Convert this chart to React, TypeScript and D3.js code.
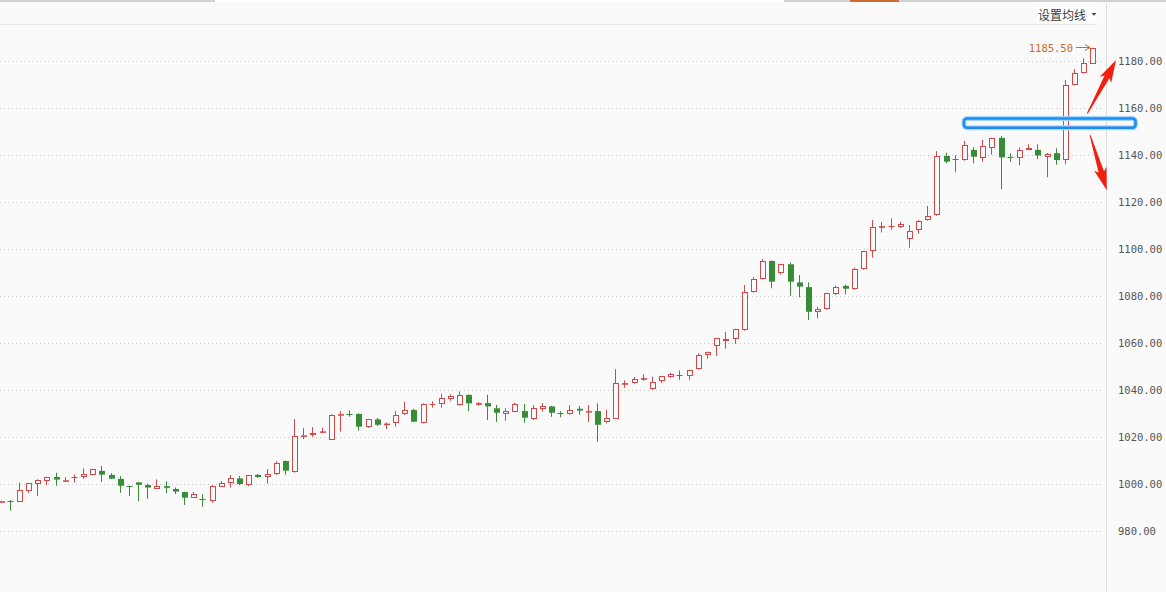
import React from "react";
import * as d3 from "d3";

const W = 1166;
const H = 592;

const opens = [992.3,992.7,992.6,997.3,1000.3,1001.5,1003.1,1001.2,1002.9,1003.2,1004.1,1005.7,1004.0,1002.3,999.3,1000.8,999.7,998.1,999.2,998.0,996.7,994.3,993.6,993.0,999.0,1000.4,1002.5,999.7,1004.0,1003.0,1004.2,1009.9,1005.4,1020.3,1020.8,1021.9,1019.0,1029.3,1030.0,1029.9,1024.2,1027.6,1025.2,1025.9,1029.7,1031.6,1026.2,1034.1,1034.0,1036.4,1033.6,1038.0,1033.8,1034.5,1032.3,1030.0,1030.9,1031.1,1027.7,1032.0,1033.1,1030.5,1029.7,1032.1,1030.6,1031.1,1026.6,1027.9,1042.3,1042.9,1044.4,1040.4,1043.9,1045.7,1046.5,1045.9,1048.9,1054.8,1058.9,1060.8,1061.6,1065.6,1081.6,1087.1,1094.9,1089.9,1093.5,1085.8,1083.8,1073.1,1074.4,1081.0,1084.3,1082.9,1091.4,1099.0,1109.0,1109.5,1109.5,1104.1,1107.9,1112.2,1114.3,1139.5,1138.0,1137.7,1142.1,1138.5,1142.9,1147.2,1138.9,1138.7,1142.1,1142.1,1139.0,1140.7,1137.7,1169.7,1174.7,1178.8];
const highs = [993.0,993.3,1000.7,1000.6,1002.1,1003.2,1004.9,1003.0,1004.2,1006.8,1006.6,1007.8,1004.7,1003.5,999.4,1001.0,1000.3,1002.1,1001.3,998.6,996.9,996.7,995.8,999.6,1001.4,1004.0,1003.5,1004.0,1004.4,1006.5,1009.8,1010.1,1027.7,1024.0,1024.3,1024.0,1029.8,1031.1,1031.4,1030.1,1027.8,1028.2,1026.3,1031.1,1035.0,1032.1,1034.4,1035.3,1038.5,1038.2,1039.5,1038.2,1035.0,1038.0,1033.7,1032.3,1034.7,1034.1,1033.7,1034.5,1033.3,1031.0,1033.6,1033.3,1033.7,1034.4,1031.6,1048.9,1044.2,1045.6,1046.7,1045.7,1046.1,1047.3,1048.4,1048.6,1055.7,1056.4,1062.2,1064.7,1066.1,1084.7,1088.1,1095.7,1095.1,1093.7,1094.2,1088.9,1085.8,1075.5,1081.4,1084.4,1084.8,1092.1,1099.2,1112.3,1111.5,1113.0,1111.5,1110.2,1112.3,1118.3,1141.6,1140.9,1139.8,1145.9,1143.3,1146.3,1147.3,1148.0,1140.7,1143.2,1144.5,1144.5,1140.8,1142.8,1171.8,1176.4,1181.0,1185.5];
const lows = [992.0,988.8,992.4,996.4,995.0,999.6,999.4,1001.1,1000.7,1002.3,1003.7,1001.0,1002.2,996.4,995.0,992.9,993.8,998.0,996.2,995.9,991.2,994.2,990.5,992.2,998.8,998.6,999.6,999.2,1002.7,1000.3,1004.0,1004.1,1005.0,1019.2,1020.2,1021.8,1018.8,1022.4,1028.7,1022.8,1024.0,1024.8,1023.4,1024.5,1029.5,1026.4,1025.8,1032.6,1032.6,1035.5,1033.4,1031.1,1033.4,1027.3,1026.5,1027.0,1030.7,1026.2,1027.3,1031.0,1028.7,1028.5,1029.5,1029.6,1026.5,1018.1,1025.9,1027.7,1041.0,1042.7,1044.0,1040.2,1043.0,1045.3,1044.4,1044.4,1048.7,1053.4,1054.6,1057.6,1059.7,1065.3,1081.4,1087.0,1083.3,1089.1,1080.1,1079.5,1069.8,1070.5,1074.2,1080.4,1080.7,1082.7,1091.2,1096.3,1107.0,1108.2,1108.9,1100.5,1106.5,1112.0,1114.1,1136.4,1132.6,1137.5,1136.4,1137.1,1140.1,1125.4,1137.0,1135.6,1142.0,1138.1,1130.5,1135.8,1136.0,1169.5,1174.5,1178.6];
const closes = [992.8,992.5,997.6,1000.4,1001.7,1003.0,1002.0,1001.7,1003.1,1004.4,1006.4,1004.1,1002.4,999.4,999.1,999.8,998.6,999.2,998.5,996.9,994.3,995.8,993.4,999.3,1000.4,1002.5,1000.1,1003.8,1003.1,1004.4,1009.2,1005.8,1020.5,1020.8,1021.8,1022.5,1029.4,1029.8,1029.8,1024.5,1027.6,1025.3,1025.8,1029.4,1031.4,1026.6,1034.1,1034.3,1036.5,1037.4,1038.0,1034.4,1034.5,1033.1,1030.4,1031.0,1034.1,1028.3,1032.3,1033.1,1030.4,1030.3,1031.7,1031.3,1031.1,1025.3,1028.0,1042.9,1043.0,1044.6,1045.1,1043.3,1045.9,1046.7,1046.3,1048.4,1054.8,1056.1,1062.0,1061.7,1065.9,1081.6,1087.2,1094.8,1086.1,1093.5,1086.1,1084.0,1073.3,1074.4,1081.2,1083.8,1083.1,1091.4,1099.0,1109.2,1109.7,1109.7,1110.5,1107.5,1111.9,1113.9,1139.5,1137.1,1138.2,1144.1,1139.2,1143.6,1147.0,1138.9,1138.7,1142.0,1143.0,1139.7,1140.5,1137.8,1169.6,1174.7,1178.9,1185.5];

const priceTicks = [980, 1000, 1020, 1040, 1060, 1080, 1100, 1120, 1140, 1160, 1180];
const headerLabel = "设置均线";

// annotations in data units: [index, price]
const upArrow = [[118.45, 1157.6], [121.58, 1180.3]];
const downArrow = [[118.75, 1148.4], [120.57, 1125.0]];
const zoneBox = { i0: 105.0, i1: 123.7, p0: 1151.5, p1: 1155.4 };

const RED = "#d14848";
const GREEN = "#368d36";
const BG = "#fafafa";
const ORANGE = "#cf6a1e";
const ARROW_RED = "#f0200f";

function arrowPoly(x0: number, y0: number, x1: number, y1: number) {
  const dx = x1 - x0, dy = y1 - y0;
  const len = Math.hypot(dx, dy);
  const ux = dx / len, uy = dy / len;
  const nx = -uy, ny = ux;
  const headLen = 19, headHalf = 6.5, tailHalf = 0.5, neckHalf = 2.8, barb = 3.5;
  const bx = x1 - ux * headLen, by = y1 - uy * headLen;
  const bbx = bx - ux * barb, bby = by - uy * barb;
  const pts = [
    [x0 + nx * tailHalf, y0 + ny * tailHalf],
    [bx + nx * neckHalf, by + ny * neckHalf],
    [bbx + nx * headHalf, bby + ny * headHalf],
    [x1, y1],
    [bbx - nx * headHalf, bby - ny * headHalf],
    [bx - nx * neckHalf, by - ny * neckHalf],
    [x0 - nx * tailHalf, y0 - ny * tailHalf],
  ];
  return pts.map((p) => p.join(",")).join(" ");
}

export default function App() {
  const n = closes.length;
  const x = d3.scaleLinear().domain([0, n - 1]).range([0.5, 1092.4]);
  const y = d3.scaleLinear().domain([1000, 1180]).range([484.3, 60.7]);
  const fmt = d3.format(".2f");
  const axisX = 1106.5;

  const candles = d3.range(n).map((i) => {
    const o = opens[i], c = closes[i], h = highs[i], l = lows[i];
    const up = c >= o;
    const cx = Math.round(x(i));
    const yTop = y(Math.max(o, c));
    const yBot = y(Math.min(o, c));
    const bodyH = yBot - yTop;
    const wick = (
      <line key="w" x1={cx + 0.5} x2={cx + 0.5} y1={y(h)} y2={y(l)}
        stroke={up ? RED : GREEN} strokeWidth={1} />
    );
    let body;
    if (bodyH < 0.7) {
      const yy = Math.round(yTop) + 0.5;
      body = <line key="b" x1={cx - 2.5} x2={cx + 3.5} y1={yy} y2={yy}
        stroke={up ? RED : GREEN} strokeWidth={1} />;
    } else if (!up) {
      body = <rect key="b" x={cx - 2} y={yTop} width={6} height={Math.max(bodyH, 1)} fill={GREEN} />;
    } else if (bodyH < 1.9) {
      body = <rect key="b" x={cx - 2} y={yTop} width={6} height={Math.max(bodyH, 1.5)} fill={RED} />;
    } else {
      const y1 = Math.round(yTop), y2 = Math.round(yBot);
      body = <rect key="b" x={cx - 1.5} y={y1 + 0.5} width={5} height={Math.max(y2 - y1 - 1, 1)}
        fill={BG} stroke={RED} strokeWidth={1} />;
    }
    return <g key={i}>{wick}{body}</g>;
  });

  const last = closes[n - 1];
  const yLast = y(last);

  const up0 = [x(upArrow[0][0]), y(upArrow[0][1])];
  const up1 = [x(upArrow[1][0]), y(upArrow[1][1])];
  const dn0 = [x(downArrow[0][0]), y(downArrow[0][1])];
  const dn1 = [x(downArrow[1][0]), y(downArrow[1][1])];

  const bx0 = x(zoneBox.i0), bx1 = x(zoneBox.i1);
  const by0 = y(zoneBox.p1), by1 = y(zoneBox.p0);

  return (
    <svg width={W} height={H} style={{ position: "fixed", left: 0, top: 0, display: "block" }}
      xmlns="http://www.w3.org/2000/svg">
      <rect x={0} y={0} width={W} height={H} fill={BG} />
      {/* top strip */}
      <rect x={0} y={0} width={215} height={2} fill="#d2d2d2" />
      <rect x={215} y={0} width={569} height={2} fill="#ffffff" />
      <rect x={784} y={0} width={382} height={2} fill="#d2d2d2" />
      <rect x={850} y={0} width={49} height={2} fill="#cf6a30" />
      {/* header line */}
      <line x1={0} x2={1097} y1={24.5} y2={24.5} stroke="#e8e8e8" strokeWidth={1} />
      {/* header label */}
      <rect x={1037} y={7} width={60} height={14} fill="#ffffff" />
      <text x={1038} y={14} dominantBaseline="central" fontSize={12}
        fontFamily="'Noto Sans CJK SC', sans-serif" fill="#3a3a3a">{headerLabel}</text>
      <path d="M1091.5,13 L1096.5,13 L1094,15.8 Z" fill="#444" />
      {/* right axis line */}
      <line x1={axisX} x2={axisX} y1={3} y2={H} stroke="#dcdcdc" strokeWidth={1} />
      {/* grid */}
      {priceTicks.map((t) => (
        <g key={t}>
          <line x1={0} x2={1103} y1={Math.round(y(t)) + 0.5} y2={Math.round(y(t)) + 0.5}
            stroke="#c8c8c8" strokeWidth={1} strokeDasharray="1,3" />
          <text x={1118} y={y(t)} dominantBaseline="central" fontSize={10.5}
            fontFamily="'DejaVu Sans Mono', monospace" fill="#555">{fmt(t)}</text>
        </g>
      ))}
      {/* candles */}
      {candles}
      {/* last price label */}
      <text x={1073} y={yLast} dominantBaseline="central" textAnchor="end" fontSize={10.5}
        fontFamily="'DejaVu Sans Mono', monospace" fill={ORANGE}>{fmt(last)}</text>
      <line x1={1076} x2={1090} y1={Math.round(yLast) - 0.5} y2={Math.round(yLast) - 0.5}
        stroke={ORANGE} strokeWidth={1} />
      <path d={`M1085,${Math.round(yLast) - 3.5} L1090,${Math.round(yLast) - 0.5} L1085,${Math.round(yLast) + 2.5}`}
        fill="none" stroke={ORANGE} strokeWidth={1} />
      {/* zone box */}
      <rect x={bx0} y={by0} width={bx1 - bx0} height={by1 - by0} rx={3}
        fill="none" stroke="#a8d4f8" strokeWidth={5} />
      <rect x={bx0} y={by0} width={bx1 - bx0} height={by1 - by0} rx={3}
        fill="none" stroke="#1a8ef0" strokeWidth={2.5} />
      {/* arrows */}
      <polygon points={arrowPoly(up0[0], up0[1], up1[0], up1[1])} fill={ARROW_RED} />
      <polygon points={arrowPoly(dn0[0], dn0[1], dn1[0], dn1[1])} fill={ARROW_RED} />
    </svg>
  );
}
